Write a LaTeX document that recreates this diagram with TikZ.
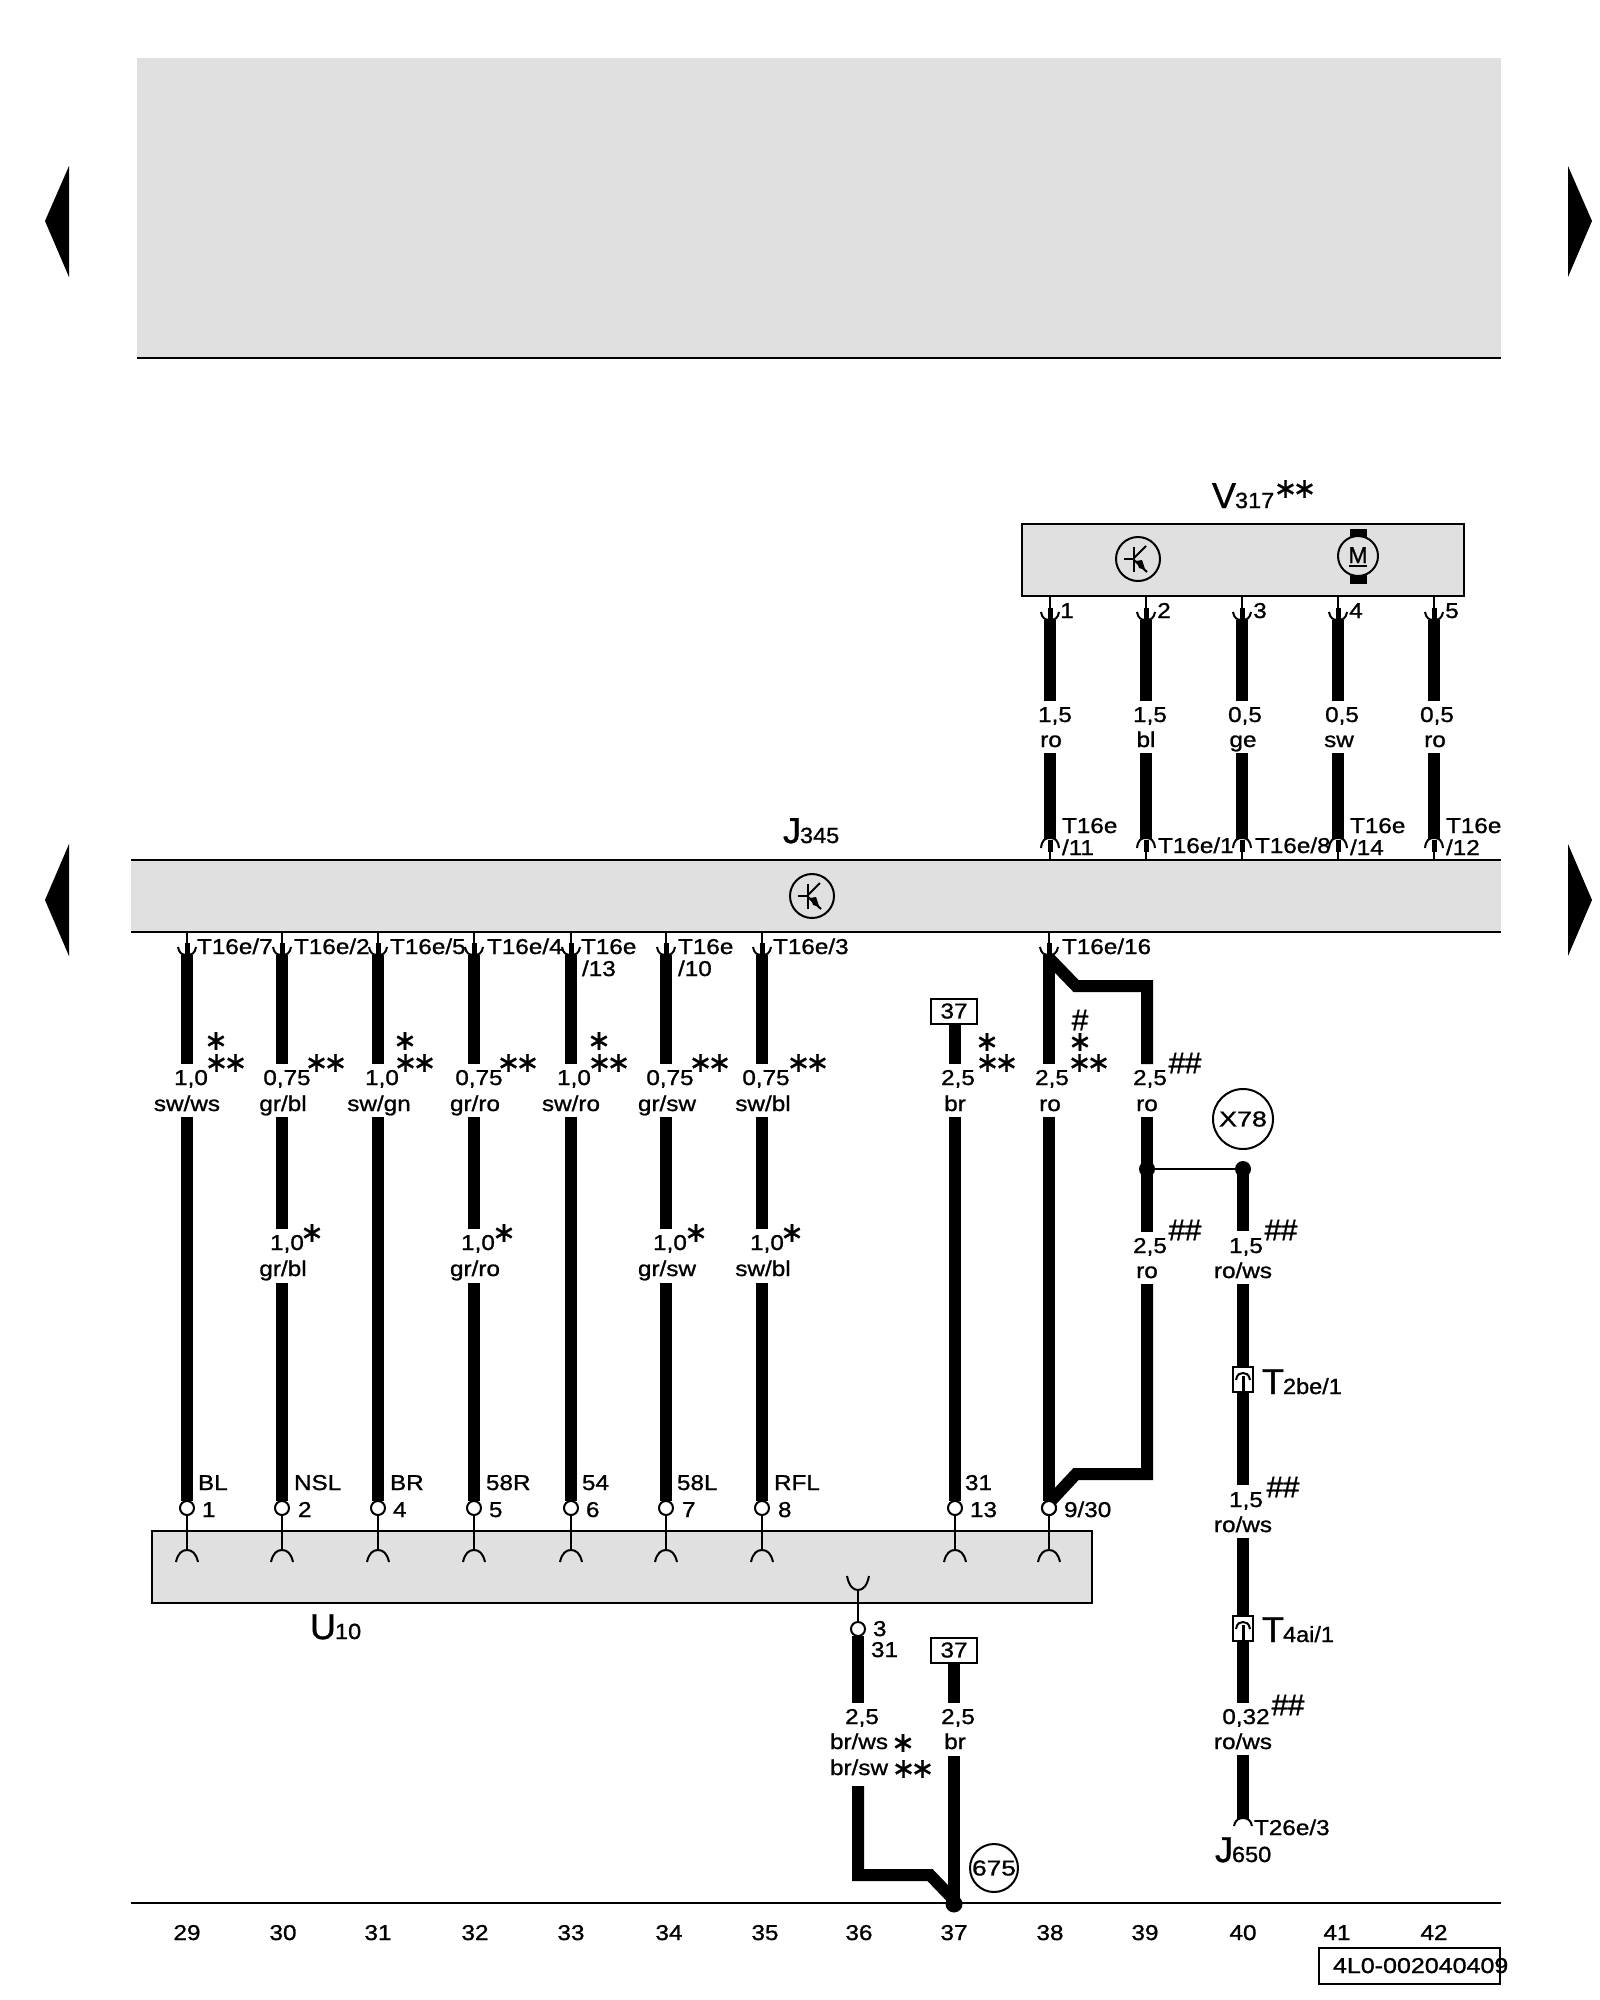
\documentclass[tikz,border=0pt]{standalone}
\usepackage{fontspec}
\setmainfont[FakeBold=1]{Liberation Sans}
\newfontfamily\starfont[FakeBold=0.8]{DejaVu Sans}
\definecolor{panel}{HTML}{E0E0E0}
\newcount\nodeno
\tikzset{
  wire/.style={line width=12pt,line cap=butt},
  thinw/.style={line width=2pt},
  boxd/.style={draw=black,fill=panel,line width=2pt},
  tag/.style={inner sep=0pt,outer sep=0pt},
}
\newcommand{\nxt}{\global\advance\nodeno by 1\relax}
\newcommand{\lfont}{\fontsize{21.5}{24}\selectfont}
\newcommand{\txc}[3]{\nxt\node[tag,anchor=base] (t\the\nodeno) at (#1,#2) {\lfont\scalebox{1.13}[1]{#3}};}
\newcommand{\txl}[3]{\nxt\node[tag,anchor=base west] (t\the\nodeno) at (#1,#2) {\lfont\scalebox{1.13}[1]{#3}};}
\newcommand{\bigname}[4]{\nxt\node[tag,anchor=base west] (t\the\nodeno) at (#1,#2) {\fontsize{36}{36}\selectfont #3\kern-1pt\fontsize{22}{24}\selectfont\scalebox{1.07}[1]{#4}};}
\newcommand{\astr}[3]{\nxt\node[tag] (t\the\nodeno) at (#1,#2) {\starfont\fontsize{28}{28}\selectfont #3};}
\newcommand{\onestar}{∗}
\newcommand{\twostar}{∗\kern-4.5pt∗}
\newcommand{\hashtwo}[2]{\nxt\node[tag] (t\the\nodeno) at (#1,#2) {\fontsize{30}{30}\selectfont\#\kern-0.5pt\#};}
\newcommand{\hashone}[2]{\nxt\node[tag] (t\the\nodeno) at (#1,#2) {\fontsize{30}{30}\selectfont\#};}
\newcommand{\wirep}[4]{\coordinate (#1a) at (#2,#3);\coordinate (#1b) at (#2,#4);\draw[wire] (#1a) -- (#1b);}
\newcommand{\plugdown}[3]{%
  \draw[thinw] (#1,#2) -- (#1,#3-8);
  \draw[line width=5pt] (#1,#3-12) -- (#1,#3-1);
  \draw[thinw] (#1-9,#3-8) .. controls (#1-8,#3-2) and (#1-5,#3) .. (#1,#3) .. controls (#1+5,#3) and (#1+8,#3-2) .. (#1+9,#3-8);
}
\newcommand{\plugup}[3]{%
  \fill[white] (#1-9,#3+10) .. controls (#1-8,#3+2) and (#1-5,#3) .. (#1,#3) .. controls (#1+5,#3) and (#1+8,#3+2) .. (#1+9,#3+10) -- cycle;
  \draw[thinw] (#1-9,#3+10) .. controls (#1-8,#3+2) and (#1-5,#3) .. (#1,#3) .. controls (#1+5,#3) and (#1+8,#3+2) .. (#1+9,#3+10);
  \draw[line width=5pt] (#1,#3+2) -- (#1,#3+14);
  \draw[thinw] (#1,#3+14) -- (#1,#2);
}
\newcommand{\ringtop}[1]{%
  \draw[thinw] (#1,1508) -- (#1,1550);
  \draw[thinw] (#1-11,1562) .. controls (#1-9,1553) and (#1-5,1550) .. (#1,1550) .. controls (#1+5,1550) and (#1+9,1553) .. (#1+11,1562);
  \draw[thinw,fill=white] (#1,1508) circle (7);
}
\newcommand{\tconn}[2]{%
  \draw[line width=2pt,fill=white] (#1-10,#2) rectangle (#1+10,#2+25);
  \draw[thinw] (#1-7,#2+13) .. controls (#1-6,#2+7) and (#1-3,#2+6) .. (#1,#2+6) .. controls (#1+3,#2+6) and (#1+6,#2+7) .. (#1+7,#2+13);
  \draw[line width=3pt] (#1,#2+9) -- (#1,#2+25);
}
\newcommand{\transistor}[2]{%
  \draw[line width=2pt] (#1,#2) circle (22);
  \draw[line width=2pt] (#1-4,#2-12) -- (#1-4,#2+13);
  \draw[line width=2pt] (#1-14,#2) -- (#1-4,#2);
  \draw[line width=2pt] (#1-4,#2-1) -- (#1+8,#2-13);
  \draw[line width=2pt] (#1-4,#2+1) -- (#1+9,#2+13);
  \fill (#1+7,#2+10) -- (#1-2,#2+2) -- (#1+4,#2+1) -- cycle;
  \fill (#1+8,#2+11) -- (#1-1,#2+3) -- (#1+1,#2+9) -- cycle;
}
\begin{document}
\begin{tikzpicture}[x=1pt,y=-1pt]
\useasboundingbox (0,0) rectangle (1600,2000);
% top panel
\fill[panel] (137,58) rectangle (1501,358);
\draw[thinw] (137,358) -- (1501,358);
% page arrows
\fill (45,221) -- (69,166) -- (69,277) -- cycle;
\fill (45,900) -- (69,844) -- (69,956) -- cycle;
\fill (1592,221) -- (1568,166) -- (1568,277) -- cycle;
\fill (1592,900) -- (1568,844) -- (1568,956) -- cycle;
% boxes
\fill[panel] (131,860) rectangle (1501,932);
\draw[thinw] (131,860) -- (1501,860);
\draw[thinw] (131,932) -- (1501,932);
\draw[boxd] (1022,524) rectangle (1464,596);
\draw[boxd] (152,1531) rectangle (1092,1603);
\transistor{1138}{559}
\transistor{812}{896}
% motor
\fill (1350,529) rectangle (1367,539);
\fill (1350,574) rectangle (1367,584);
\draw[line width=2pt,fill=panel] (1358,556) circle (20);
\node[tag,anchor=base] (motorM) at (1358,563) {\fontsize{23}{24}\selectfont M};
\draw[line width=2pt] (1349,566) -- (1367,566);

% V317 pins
\wirep{va}{1050}{620}{701}\wirep{vb}{1050}{753}{840}
\wirep{vc}{1146}{620}{701}\wirep{vd}{1146}{753}{840}
\wirep{ve}{1242}{620}{701}\wirep{vf}{1242}{753}{840}
\wirep{vg}{1338}{620}{701}\wirep{vh}{1338}{753}{840}
\wirep{vi}{1434}{620}{701}\wirep{vj}{1434}{753}{840}
\plugdown{1050}{596}{620}\plugdown{1146}{596}{620}\plugdown{1242}{596}{620}\plugdown{1338}{596}{620}\plugdown{1434}{596}{620}
\plugup{1050}{860}{838}\plugup{1146}{860}{838}\plugup{1242}{860}{838}\plugup{1338}{860}{838}\plugup{1434}{860}{838}

% lower wires
\wirep{aa}{187}{955}{1064}\wirep{ab}{187}{1117}{1501}
\wirep{ba}{282}{955}{1064}\wirep{bb}{282}{1117}{1229}\wirep{bc}{282}{1283}{1501}
\wirep{ca}{378}{955}{1064}\wirep{cb}{378}{1117}{1501}
\wirep{da}{474}{955}{1064}\wirep{db}{474}{1117}{1229}\wirep{dc}{474}{1283}{1501}
\wirep{ea}{571}{955}{1064}\wirep{eb}{571}{1117}{1501}
\wirep{fa}{666}{955}{1064}\wirep{fb}{666}{1117}{1229}\wirep{fc}{666}{1283}{1501}
\wirep{ga}{762}{955}{1064}\wirep{gb}{762}{1117}{1229}\wirep{gc}{762}{1283}{1501}
\wirep{ha}{955}{1024}{1064}\wirep{hb}{955}{1117}{1501}
\wirep{ia}{1049}{955}{1064}\wirep{ib}{1049}{1117}{1501}
\foreach \xx in {187,282,378,474,571,666,762,1049}{\plugdown{\xx}{932}{955}}
\foreach \xx in {187,282,378,474,571,666,762,955,1049}{\ringtop{\xx}}

% branch loop 38-39
\coordinate (ja) at (1049,958);
\coordinate (jb) at (1076,986);
\coordinate (jc) at (1147,986);
\coordinate (jd) at (1147,1064);
\draw[line width=12pt,line join=miter] (ja) -- (jb) -- (jc) -- (jd);
\wirep{ka}{1147}{1117}{1232}
\coordinate (la) at (1147,1284);
\coordinate (lb) at (1147,1474);
\coordinate (lc) at (1076,1474);
\coordinate (ld) at (1049,1503);
\draw[line width=12pt,line join=miter] (la) -- (lb) -- (lc) -- (ld);
\draw[thinw,fill=white] (1049,1508) circle (7);

% column 40
\wirep{ma}{1243}{1169}{1231}\wirep{mb}{1243}{1284}{1485}\wirep{mc}{1243}{1538}{1703}\wirep{md}{1243}{1755}{1819}
\tconn{1243}{1367}\tconn{1243}{1616}
\fill[white] (1234,1826) .. controls (1235,1820) and (1239,1818) .. (1243,1818) .. controls (1247,1818) and (1251,1820) .. (1252,1826) -- cycle;
\draw[thinw] (1234,1826) .. controls (1235,1820) and (1239,1818) .. (1243,1818) .. controls (1247,1818) and (1251,1820) .. (1252,1826);
\coordinate (na) at (1147,1169);
\coordinate (nb) at (1243,1169);
\draw[thinw] (na) -- (nb);
\fill (na) circle (8);\fill (nb) circle (8);
\node[draw,circle,line width=2pt,minimum size=60pt,inner sep=0pt,font=\fontsize{21.5}{24}\selectfont] (x78) at (1243,1119) {\scalebox{1.25}[1]{X78}};

% col 36/37 bottom
\draw[thinw] (847,1576) .. controls (849,1586) and (853,1590) .. (858,1590) .. controls (863,1590) and (867,1586) .. (869,1576);
\draw[thinw] (858,1590) -- (858,1629);
\draw[thinw,fill=white] (858,1629) circle (7);
\wirep{oa}{858}{1636}{1703}
\coordinate (pa) at (858,1786);
\coordinate (pb) at (858,1875);
\coordinate (pc) at (930,1875);
\coordinate (pd) at (954,1900);
\draw[line width=12pt,line join=miter] (pa) -- (pb) -- (pc) -- (pd);
\wirep{qa}{954}{1663}{1703}\wirep{qb}{954}{1756}{1904}
\node[draw,fill=white,line width=2pt,minimum width=46pt,minimum height=25pt,inner sep=0pt,font=\fontsize{21.5}{24}\selectfont] (ref37a) at (954,1011) {\scalebox{1.13}[1]{37}};
\node[draw,fill=white,line width=2pt,minimum width=46pt,minimum height=25pt,inner sep=0pt,font=\fontsize{21.5}{24}\selectfont] (ref37b) at (954,1650) {\scalebox{1.13}[1]{37}};
\draw[thinw] (131,1903) -- (1501,1903);
\fill (954,1904) circle (8.5);
\node[draw,circle,line width=2pt,minimum size=48pt,inner sep=0pt,font=\fontsize{21.5}{24}\selectfont] (g675) at (994,1868) {\scalebox{1.22}[1]{675}};

% titles
\bigname{1212}{508}{V}{317}\astr{1295}{489}{\twostar}
\bigname{783}{843}{J}{345}
\bigname{310}{1639}{U}{10}
\bigname{1262}{1394}{T}{2be/1}
\bigname{1262}{1642}{T}{4ai/1}
\bigname{1215}{1862}{J}{650}

% pin labels V317
\txc{1067}{618}{1}\txc{1164}{618}{2}\txc{1260}{618}{3}\txc{1356}{618}{4}\txc{1452}{618}{5}
\txc{1055}{722}{1,5}\txc{1051}{747}{ro}
\txc{1150}{722}{1,5}\txc{1146}{747}{bl}
\txc{1245}{722}{0,5}\txc{1243}{747}{ge}
\txc{1342}{722}{0,5}\txc{1339}{747}{sw}
\txc{1437}{722}{0,5}\txc{1435}{747}{ro}
\txl{1062}{833}{T16e}\txl{1062}{855}{/11}
\txl{1158}{853}{T16e/1}\txl{1255}{853}{T16e/8}
\txl{1350}{833}{T16e}\txl{1350}{855}{/14}
\txl{1446}{833}{T16e}\txl{1446}{855}{/12}

% J345 lower pins
\txl{197}{954}{T16e/7}\txl{294}{954}{T16e/2}\txl{390}{954}{T16e/5}\txl{487}{954}{T16e/4}
\txl{581}{954}{T16e}\txl{582}{976}{/13}\txl{678}{954}{T16e}\txl{678}{976}{/10}
\txl{773}{954}{T16e/3}\txl{1062}{954}{T16e/16}

% first label row
\txc{191}{1085}{1,0}\txc{187}{1111}{sw/ws}
\txc{287}{1085}{0,75}\txc{283}{1111}{gr/bl}
\txc{382}{1085}{1,0}\txc{379}{1111}{sw/gn}
\txc{479}{1085}{0,75}\txc{475}{1111}{gr/ro}
\txc{574}{1085}{1,0}\txc{571}{1111}{sw/ro}
\txc{670}{1085}{0,75}\txc{667}{1111}{gr/sw}
\txc{766}{1085}{0,75}\txc{763}{1111}{sw/bl}
\txc{958}{1085}{2,5}\txc{955}{1111}{br}
\txc{1052}{1085}{2,5}\txc{1050}{1111}{ro}
\txc{1150}{1085}{2,5}\txc{1147}{1111}{ro}
\astr{216}{1041}{\onestar}\astr{405}{1041}{\onestar}\astr{599}{1041}{\onestar}\astr{987}{1042}{\onestar}\astr{1080}{1042}{\onestar}
\astr{226}{1063}{\twostar}\astr{326}{1063}{\twostar}\astr{415}{1063}{\twostar}\astr{518}{1063}{\twostar}\astr{609}{1063}{\twostar}\astr{710}{1063}{\twostar}\astr{808}{1063}{\twostar}\astr{997}{1063}{\twostar}\astr{1089}{1063}{\twostar}
\hashone{1080}{1020}
\hashtwo{1185}{1063}

% second label row
\txc{287}{1250}{1,0}\txc{283}{1276}{gr/bl}
\txc{478}{1250}{1,0}\txc{475}{1276}{gr/ro}
\txc{670}{1250}{1,0}\txc{667}{1276}{gr/sw}
\txc{767}{1250}{1,0}\txc{763}{1276}{sw/bl}
\astr{312}{1233}{\onestar}\astr{504}{1233}{\onestar}\astr{696}{1233}{\onestar}\astr{792}{1233}{\onestar}
\txc{1150}{1253}{2,5}\txc{1147}{1278}{ro}\hashtwo{1185}{1230}
\txc{1246}{1253}{1,5}\txc{1243}{1278}{ro/ws}\hashtwo{1281}{1230}
\txc{1246}{1507}{1,5}\txc{1243}{1532}{ro/ws}\hashtwo{1283}{1487}
\txc{1246}{1724}{0,32}\txc{1243}{1749}{ro/ws}\hashtwo{1288}{1705}
\txl{1254}{1835}{T26e/3}

% U10 pin labels
\txl{198}{1490}{BL}\txl{202}{1517}{1}
\txl{294}{1490}{NSL}\txl{298}{1517}{2}
\txl{390}{1490}{BR}\txl{393}{1517}{4}
\txl{486}{1490}{58R}\txl{489}{1517}{5}
\txl{582}{1490}{54}\txl{586}{1517}{6}
\txl{677}{1490}{58L}\txl{682}{1517}{7}
\txl{774}{1490}{RFL}\txl{778}{1517}{8}
\txl{965}{1490}{31}\txl{970}{1517}{13}
\txl{1064}{1517}{9/30}
\txl{873}{1636}{3}\txl{871}{1657}{31}

% col 36/37 labels
\txc{862}{1724}{2,5}\txl{830}{1749}{br/ws}\astr{903}{1743}{\onestar}
\txl{830}{1775}{br/sw}\astr{913}{1769}{\twostar}
\txc{958}{1724}{2,5}\txc{955}{1749}{br}

% column numbers
\txc{187}{1940}{29}\txc{283}{1940}{30}\txc{378}{1940}{31}\txc{475}{1940}{32}\txc{571}{1940}{33}\txc{669}{1940}{34}\txc{765}{1940}{35}\txc{859}{1940}{36}\txc{954}{1940}{37}\txc{1050}{1940}{38}\txc{1145}{1940}{39}\txc{1243}{1940}{40}\txc{1337}{1940}{41}\txc{1434}{1940}{42}
\draw[line width=2pt] (1319,1948) rectangle (1500,1984);
\txl{1333}{1973}{\scalebox{1.03}[1]{4L0-002040409}}
\end{tikzpicture}
\end{document}
